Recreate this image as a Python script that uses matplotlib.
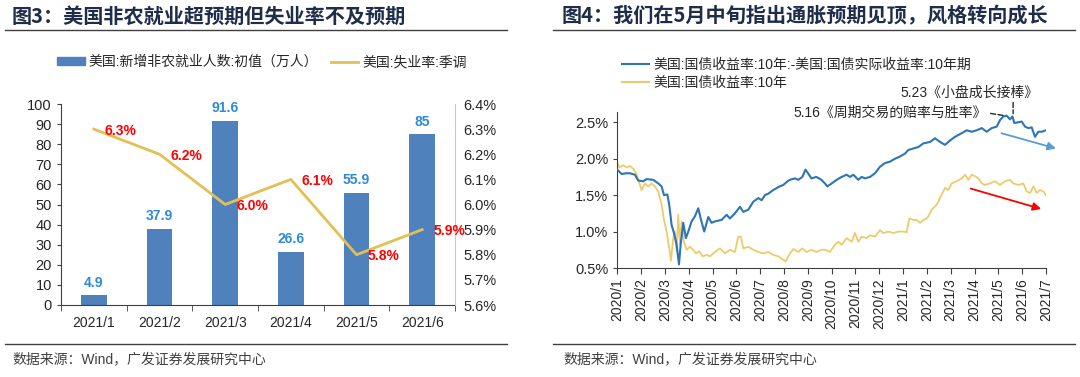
import matplotlib
matplotlib.use("Agg")
import matplotlib.pyplot as plt
from matplotlib.lines import Line2D
from matplotlib.patches import Patch
import numpy as np

plt.rcParams['font.family'] = ['Liberation Sans', 'Noto Sans CJK SC']
plt.rcParams['axes.unicode_minus'] = False

# ---- 图3 数据 ----
months = ['2021/1', '2021/2', '2021/3', '2021/4', '2021/5', '2021/6']
nfp = [4.9, 37.9, 91.6, 26.6, 55.9, 85]          # 新增非农就业人数（万人）
unemp = [6.3, 6.2, 6.0, 6.1, 5.8, 5.9]           # 失业率（%）

# ---- 图4 数据（横轴：自2020/1起的月数）----
ticks_m = ['2020/1', '2020/2', '2020/3', '2020/4', '2020/5', '2020/6', '2020/7',
           '2020/8', '2020/9', '2020/10', '2020/11', '2020/12', '2021/1', '2021/2',
           '2021/3', '2021/4', '2021/5', '2021/6', '2021/7']
t_be = [0, 0.18, 0.35, 0.53, 0.74, 0.88, 1.09, 1.23, 1.51, 1.72, 1.86, 1.96, 2.10, 2.18,
        2.28, 2.38, 2.49, 2.59, 2.66, 2.77, 2.88, 2.98, 3.12, 3.26, 3.40, 3.50, 3.65,
        3.82, 3.96, 4.10, 4.38, 4.59, 4.73, 4.94, 5.15, 5.29, 5.50, 5.71, 5.92, 6.06,
        6.20, 6.34, 6.55, 6.76, 6.97, 7.15, 7.25, 7.46, 7.60, 7.77, 7.90, 8.01, 8.15,
        8.36, 8.57, 8.72, 8.82, 9.00, 9.21, 9.42, 9.63, 9.77, 9.91, 10.12, 10.26, 10.40,
        10.61, 10.82, 11.03, 11.24, 11.45, 11.66, 11.87, 12.08, 12.22, 12.43, 12.64,
        12.85, 13.13, 13.34, 13.55, 13.76, 13.97, 14.18, 14.46, 14.67, 14.88, 15.09,
        15.30, 15.51, 15.72, 15.93, 16.07, 16.21, 16.35, 16.49, 16.59, 16.67, 16.84,
        16.98, 17.12, 17.26, 17.40, 17.54, 17.68, 17.82, 18.00]
breakeven = [1.85, 1.79, 1.80, 1.80, 1.78, 1.70, 1.69, 1.72, 1.71, 1.66, 1.62, 1.50, 1.51,
             1.37, 1.09, 0.98, 0.82, 0.55, 0.82, 1.12, 0.91, 1.00, 1.14, 1.21, 1.32, 1.18,
             1.00, 1.20, 1.12, 1.14, 1.16, 1.23, 1.18, 1.25, 1.34, 1.27, 1.30, 1.41, 1.46,
             1.43, 1.50, 1.52, 1.57, 1.61, 1.64, 1.69, 1.71, 1.73, 1.71, 1.75, 1.85, 1.80,
             1.73, 1.75, 1.71, 1.66, 1.62, 1.66, 1.71, 1.75, 1.78, 1.75, 1.78, 1.71, 1.75,
             1.73, 1.75, 1.80, 1.89, 1.94, 1.96, 2.00, 2.03, 2.07, 2.12, 2.14, 2.16, 2.21,
             2.23, 2.28, 2.23, 2.19, 2.25, 2.30, 2.35, 2.39, 2.37, 2.39, 2.42, 2.37, 2.42,
             2.44, 2.53, 2.58, 2.59, 2.54, 2.58, 2.49, 2.50, 2.51, 2.44, 2.42, 2.43, 2.30,
             2.37, 2.37, 2.39]
t_10y = [0, 0.08, 0.25, 0.39, 0.53, 0.67, 0.81, 0.95, 1.02, 1.16, 1.30, 1.44, 1.58, 1.72,
         1.86, 1.96, 2.07, 2.18, 2.25, 2.35, 2.42, 2.49, 2.56, 2.63, 2.70, 2.80, 2.91,
         3.05, 3.19, 3.30, 3.44, 3.58, 3.75, 3.89, 4.10, 4.31, 4.52, 4.73, 4.94, 5.08,
         5.19, 5.29, 5.50, 5.71, 5.92, 6.13, 6.34, 6.55, 6.76, 6.97, 7.07, 7.25, 7.39,
         7.60, 7.77, 7.95, 8.15, 8.36, 8.57, 8.72, 8.93, 9.14, 9.28, 9.42, 9.63, 9.84,
         9.98, 10.12, 10.26, 10.47, 10.61, 10.82, 11.03, 11.17, 11.38, 11.59, 11.80, 12.01,
         12.15, 12.26, 12.43, 12.57, 12.71, 12.85, 12.99, 13.06, 13.20, 13.41, 13.55,
         13.76, 13.90, 14.04, 14.25, 14.46, 14.60, 14.74, 14.88, 15.02, 15.16, 15.30,
         15.44, 15.65, 15.86, 16.07, 16.28, 16.49, 16.63, 16.84, 17.05, 17.19, 17.33,
         17.47, 17.61, 17.75, 17.89, 17.99]
ust10y = [1.95, 1.88, 1.91, 1.88, 1.90, 1.86, 1.79, 1.64, 1.57, 1.66, 1.62, 1.66, 1.62, 1.55,
          1.37, 1.16, 1.00, 0.77, 0.60, 0.91, 1.00, 0.73, 1.23, 0.82, 1.14, 0.86, 0.75,
          0.79, 0.75, 0.70, 0.73, 0.66, 0.68, 0.66, 0.72, 0.77, 0.70, 0.75, 0.72, 0.93,
          0.93, 0.77, 0.79, 0.75, 0.72, 0.70, 0.72, 0.68, 0.66, 0.61, 0.59, 0.70, 0.76,
          0.72, 0.77, 0.72, 0.75, 0.72, 0.75, 0.75, 0.72, 0.82, 0.86, 0.82, 0.91, 0.86,
          0.98, 0.86, 0.93, 0.91, 0.95, 0.93, 1.02, 0.98, 1.00, 0.98, 1.00, 1.00,
          0.99, 1.18, 1.16, 1.16, 1.12, 1.16, 1.18, 1.21, 1.30, 1.37, 1.46,
          1.60, 1.57, 1.66, 1.69, 1.73, 1.78, 1.71, 1.78, 1.76, 1.73, 1.66,
          1.64, 1.66, 1.69, 1.64, 1.69, 1.71, 1.66, 1.64, 1.66, 1.55, 1.53,
          1.62, 1.53, 1.57, 1.55, 1.50]

W, H = 1080, 377
fig = plt.figure(figsize=(W / 100, H / 100), dpi=100)
txt = '#262626'
navy = '#1f2d4a'


def fx(px):
    return px / W


def fy(py):
    return 1 - py / H


# 标题与分隔线
fig.text(fx(12), fy(16), '图3：美国非农就业超预期但失业率不及预期', fontsize=14.5,
         weight='bold', color=navy, va='center', family=['Noto Sans CJK SC'])
fig.text(fx(562), fy(16), '图4：我们在5月中旬指出通胀预期见顶，风格转向成长', fontsize=14.5,
         weight='bold', color=navy, va='center', family=['Noto Sans CJK SC'])
for x0, x1 in [(5, 507), (553, 1075)]:
    fig.add_artist(Line2D([fx(x0), fx(x1)], [fy(30)] * 2, color='#404040', lw=1))
    fig.add_artist(Line2D([fx(x0), fx(x1)], [fy(344)] * 2, color='#404040', lw=1))
for x0 in [12, 563]:
    fig.text(fx(x0), fy(359), '数据来源：Wind，广发证券发展研究中心', fontsize=10,
             color='#404040', va='center')

# ---- 左图 ----
bar_c = '#4f81bd'
gold = '#e2c053'
ax1 = fig.add_axes([fx(61), fy(305), fx(394), 201 / H])
x = np.arange(len(months))
bars = ax1.bar(x, nfp, width=0.39, color=bar_c, zorder=2)
ax1.bar_label(bars, labels=[f'{v:g}' for v in nfp], padding=4, color='#2e8ad8',
              fontsize=10, weight='bold')
ax1.set_xlim(-0.5, 5.5)
ax1.set_ylim(0, 100)
ax1.set_yticks(range(0, 101, 10))
ax1.set_xticks(x)
ax1.set_xticklabels(months)
ax1.set_xticks(np.arange(-0.5, 6, 1), minor=True)
ax1.tick_params(axis='x', which='major', length=0, pad=8, labelsize=10, labelcolor=txt)
ax1.tick_params(axis='x', which='minor', length=4, direction='out', color='#404040')
ax1.tick_params(axis='y', length=3, direction='out', labelsize=10.5, labelcolor=txt,
                color='#404040')
for s in ['top', 'right']:
    ax1.spines[s].set_visible(False)
ax1.spines['left'].set_color('#404040')
ax1.spines['bottom'].set_color('#404040')

ax2 = ax1.twinx()
ax2.plot(x, unemp, color=gold, lw=2, zorder=3)
ax2.set_ylim(5.6, 6.4)
ax2.set_yticks(np.round(np.arange(5.6, 6.41, 0.1), 1))
ax2.yaxis.set_major_formatter(plt.FuncFormatter(lambda v, p: f'{v:.1f}%'))
ax2.tick_params(axis='y', length=0, pad=6, labelsize=10.5, labelcolor=txt)
for s in ['top', 'left', 'bottom']:
    ax2.spines[s].set_visible(False)
ax2.spines['right'].set_color('#c8c8c8')
for xi, v in zip(x, unemp):
    ax2.annotate(f'{v:.1f}%', (xi, v), xytext=(8, -1), textcoords='offset points',
                 ha='left', va='center', color='#ff0000', fontsize=10, weight='bold')

fig.legend(handles=[Patch(color=bar_c), Line2D([], [], color=gold, lw=2)],
           labels=['美国:新增非农就业人数:初值（万人）', '美国:失业率:季调'],
           loc='center', bbox_to_anchor=(fx(262), fy(62)), ncol=2, frameon=False,
           fontsize=10, handlelength=2.0, handleheight=0.45, handletextpad=0.3,
           columnspacing=0.9, labelcolor=txt)

# ---- 右图 ----
blue = '#2e75b6'
yel = '#eecb6a'
ax3 = fig.add_axes([fx(617.3), fy(268), fx(428.7), 156.3 / H])
ax3.plot(t_10y, ust10y, color=yel, lw=1.3, zorder=2)
ax3.plot(t_be, breakeven, color=blue, lw=1.5, zorder=3)
ax3.set_xlim(0, 18)
ax3.set_ylim(0.5, 2.645)
ax3.set_yticks([0.5, 1.0, 1.5, 2.0, 2.5])
ax3.yaxis.set_major_formatter(plt.FuncFormatter(lambda v, p: f'{v:.1f}%'))
ax3.set_xticks(range(len(ticks_m)))
ax3.set_xticklabels(ticks_m, rotation=90)
ax3.tick_params(axis='x', length=4, direction='out', labelsize=10, labelcolor=txt,
                color='#404040')
ax3.tick_params(axis='y', length=3, direction='out', labelsize=10.5, labelcolor=txt,
                color='#404040')
for s in ['top', 'right']:
    ax3.spines[s].set_visible(False)
ax3.spines['left'].set_color('#404040')
ax3.spines['bottom'].set_color('#404040')

ax3.annotate('', xy=(18.53, 2.13), xytext=(16.02, 2.36), annotation_clip=False,
             arrowprops=dict(arrowstyle='-|>', color='#5b9bd5', lw=1.3,
                             mutation_scale=12))
ax3.annotate('', xy=(17.91, 1.30), xytext=(14.73, 1.60), annotation_clip=False,
             arrowprops=dict(arrowstyle='-|>', color='#ff0000', lw=1.3,
                             mutation_scale=12))
ax3.annotate('', xy=(16.62, 2.58), xytext=(16.62, 2.81), annotation_clip=False,
             arrowprops=dict(arrowstyle='-', color='#262626', lw=1, ls='--'))
ax3.text(11.9, 2.91, '5.23《小盘成长接棒》', fontsize=10, color=txt, va='center',
         ha='left', clip_on=False)
ax3.annotate('5.16《周期交易的赔率与胜率》', xy=(16.28, 2.59), xytext=(15.5, 2.63),
             fontsize=10, color=txt, va='center', ha='right', annotation_clip=False,
             arrowprops=dict(arrowstyle='-', color='#262626', lw=1, ls='--',
                             relpos=(1, 0.5), shrinkA=1, shrinkB=0))

fig.legend(handles=[Line2D([], [], color=blue, lw=1.5), Line2D([], [], color=yel, lw=1.5)],
           labels=['美国:国债收益率:10年:-美国:国债实际收益率:10年期', '美国:国债收益率:10年'],
           loc='upper left', bbox_to_anchor=(fx(609), fy(45)), ncol=1, frameon=False,
           fontsize=10, handlelength=2.0, handletextpad=0.3, labelspacing=0.35,
           labelcolor=txt)

fig.savefig('out.png', dpi=100)
